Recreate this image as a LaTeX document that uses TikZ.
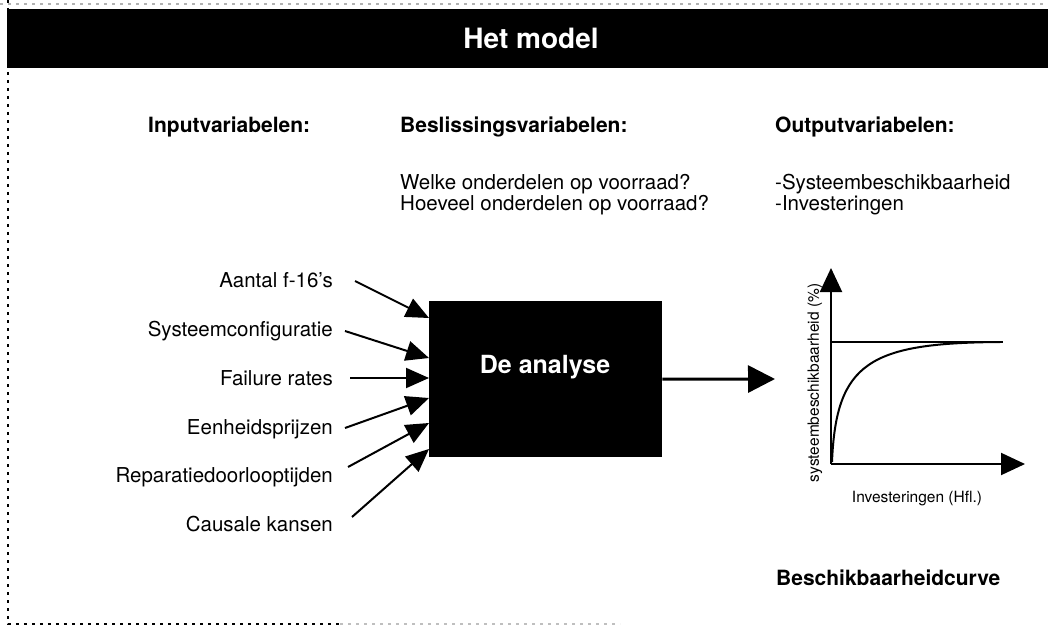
\documentclass[tikz,border=0pt]{standalone}
\usepackage{fontspec}
\setmainfont{TeX Gyre Heros}
\usetikzlibrary{arrows.meta}
\begin{document}
\begin{tikzpicture}[x=1pt,y=-1pt,
  hdr/.style={font=\fontsize{21}{25}\selectfont\bfseries, anchor=base west, inner sep=0pt},
  txt/.style={font=\fontsize{20.5}{24}\selectfont, anchor=base west, inner sep=0pt},
  lbl/.style={font=\fontsize{20.5}{24}\selectfont, anchor=base east, inner sep=0pt},
  axlbl/.style={font=\fontsize{15.5}{18}\selectfont, inner sep=0pt},
  dotline/.style={line width=2.6pt, dash pattern=on 2.6pt off 5.4pt},
  inarrow/.style={line width=2pt, -{Triangle[length=23pt,width=20pt]}},
  bigarrow/.style={line width=3pt, -{Triangle[length=27pt,width=27pt]}},
  axis/.style={line width=2pt, -{Triangle[length=24pt,width=22pt]}}]
\useasboundingbox (0,0) rectangle (1048,628);

% frame: faint dotted top edge, dotted left and bottom edges
\draw[dotline, gray!60, line width=1.5pt] (0,4) -- (1048,4);
\draw[dotline] (8,0) -- (8,624) -- (340,624);
\draw[dotline, gray!50, line width=1.5pt] (340,624) -- (620,624);

% title banner
\fill[black] (7,9) rectangle (1048,68);
\node[font=\fontsize{28}{32}\selectfont\bfseries, text=white] (title) at (531,38) {Het model};

% column headings
\node[hdr] (hin) at (148,133) {Inputvariabelen:};
\node[hdr] (hdec) at (400,133) {Beslissingsvariabelen:};
\node[hdr] (hout) at (775,133) {Outputvariabelen:};

% decision questions and outputs
\node[txt] (q1) at (400,190) {Welke onderdelen op voorraad?};
\node[txt] (q2) at (400,211) {Hoeveel onderdelen op voorraad?};
\node[txt] (o1) at (775,190) {-Systeembeschikbaarheid};
\node[txt] (o2) at (775,211) {-Investeringen};

% input variables
\node[lbl] (i1) at (333,287) {Aantal f-16's};
\node[lbl] (i2) at (333,336) {Systeemconfiguratie};
\node[lbl] (i3) at (333,385) {Failure rates};
\node[lbl] (i4) at (333,434) {Eenheidsprijzen};
\node[lbl] (i5) at (333,482) {Reparatiedoorlooptijden};
\node[lbl] (i6) at (333,531) {Causale kansen};

% the analysis block
\node[fill=black, minimum width=233pt, minimum height=156pt, inner sep=0pt,
      anchor=north west] (box) at (429,301) {};
\node[font=\fontsize{25}{30}\selectfont\bfseries, text=white, anchor=base] (boxtext) at (545,373) {De analyse};

% input arrows into the block
\draw[inarrow] ([xshift=22pt,yshift=6pt]i1.base east) -- ([yshift=-17pt]box.north west);
\draw[inarrow] ([xshift=12pt,yshift=5pt]i2.base east) -- ([yshift=-57pt]box.north west);
\draw[inarrow] ([xshift=17pt,yshift=7pt]i3.base east) -- ([yshift=-77pt]box.north west);
\draw[inarrow] ([xshift=12pt,yshift=6pt]i4.base east) -- ([yshift=-97pt]box.north west);
\draw[inarrow] ([xshift=15pt,yshift=15pt]i5.base east) -- ([yshift=-122pt]box.north west);
\draw[inarrow] ([xshift=19pt,yshift=14pt]i6.base east) -- ([yshift=-148pt]box.north west);

% output arrow
\coordinate (outtip) at (775,379);
\draw[bigarrow] (box.east) -- (outtip);

% availability curve
\coordinate (origin) at (831,464);
\coordinate (ytip) at (831,268);
\coordinate (xtip) at (1025,464);
\draw[axis] (origin) -- (ytip);
\draw[axis] (origin) -- (xtip);
\draw[line width=1.6pt] (831,342) -- (1003,342);
\draw[line width=2pt] (832,462) .. controls (836,362) and (870,343) .. (1000,342);
\node[axlbl, rotate=90] (ylab) at (815,383) {systeembeschikbaarheid (\%)};
\node[axlbl, anchor=base] (xlab) at (917,502) {Investeringen (Hfl.)};
\node[hdr] (curve) at (776,585) {Beschikbaarheidcurve};
\end{tikzpicture}
\end{document}
